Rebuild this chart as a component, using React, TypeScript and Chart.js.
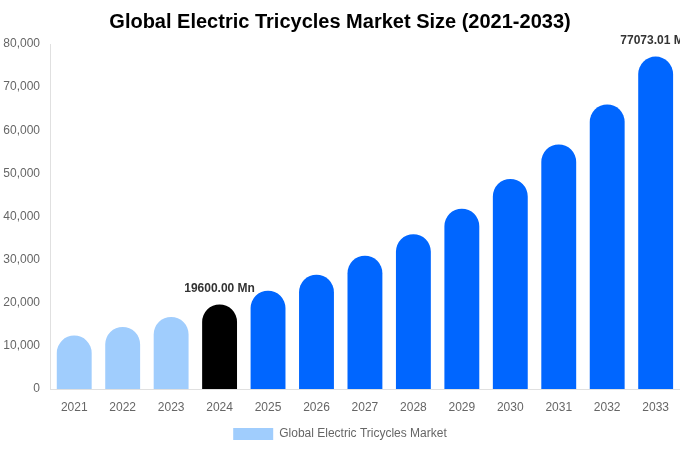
import React, { useEffect, useRef } from "react";
import { Chart, registerables } from "chart.js";

Chart.register(...registerables);

const years = ["2021", "2022", "2023", "2024", "2025", "2026", "2027", "2028", "2029", "2030", "2031", "2032", "2033"];
const marketSize = [12400, 14400, 16700, 19600, 22800, 26500, 30900, 35900, 41800, 48700, 56700, 66000, 77073.01];
const barColors = [
  "#a0cdfd", "#a0cdfd", "#a0cdfd", "#000000",
  "#0066ff", "#0066ff", "#0066ff", "#0066ff", "#0066ff", "#0066ff", "#0066ff", "#0066ff", "#0066ff",
];
const labelledIndexes = [3, 12];
const yTicks = [0, 10000, 20000, 30000, 40000, 50000, 60000, 70000, 80000];

const valueLabelPlugin = {
  id: "valueLabels",
  afterDatasetsDraw(chart: any) {
    const ctx = chart.ctx;
    const meta = chart.getDatasetMeta(0);
    ctx.save();
    ctx.font = "bold 12px 'Liberation Sans', Arial, sans-serif";
    ctx.fillStyle = "#333333";
    ctx.textAlign = "center";
    ctx.textBaseline = "middle";
    labelledIndexes.forEach((i) => {
      const bar = meta.data[i];
      if (!bar) return;
      ctx.fillText(marketSize[i].toFixed(2) + " Mn", bar.x, bar.y - 16);
    });
    ctx.restore();
  },
};

export default function App() {
  const canvasRef = useRef<HTMLCanvasElement | null>(null);

  useEffect(() => {
    document.body.style.margin = "0";
    const canvas = canvasRef.current;
    if (!canvas) return;
    const chart = new Chart(canvas, {
      type: "bar",
      data: {
        labels: years,
        datasets: [
          {
            label: "Global Electric Tricycles Market",
            data: marketSize,
            backgroundColor: barColors,
            borderRadius: 100,
            borderSkipped: "start",
            categoryPercentage: 0.8,
            barPercentage: 0.9,
          },
        ],
      },
      options: {
        animation: false,
        responsive: false,
        maintainAspectRatio: false,
        layout: { padding: { top: 0, right: 0, bottom: 0, left: 0 } },
        plugins: {
          title: {
            display: true,
            text: "Global Electric Tricycles Market Size (2021-2033)",
            color: "#000000",
            font: { family: "'Liberation Sans', Arial, sans-serif", size: 20, weight: "bold" },
            padding: { top: 10, bottom: 10 },
          },
          legend: {
            display: true,
            position: "bottom",
            labels: {
              color: "#666666",
              font: { family: "'Liberation Sans', Arial, sans-serif", size: 12 },
              boxWidth: 40,
              boxHeight: 12,
              generateLabels: () => [
                {
                  text: "Global Electric Tricycles Market",
                  fillStyle: "#a0cdfd",
                  strokeStyle: "#a0cdfd",
                  lineWidth: 0,
                  hidden: false,
                  datasetIndex: 0,
                  fontColor: "#666666",
                },
              ],
            },
          },
          tooltip: { enabled: false },
        },
        scales: {
          x: {
            grid: { display: false, drawTicks: false },
            border: { display: true, color: "#e0e0e0" },
            afterFit: (scale: any) => {
              scale.height = 29;
            },
            ticks: {
              color: "#666666",
              padding: 11,
              font: { family: "'Liberation Sans', Arial, sans-serif", size: 12 },
            },
          },
          y: {
            min: 0,
            max: 80000,
            afterBuildTicks: (axis: any) => {
              axis.ticks = yTicks.map((v) => ({ value: v }));
            },
            afterFit: (scale: any) => {
              scale.width = 50;
            },
            grid: { display: false, drawTicks: false },
            border: { display: true, color: "#e0e0e0" },
            ticks: {
              color: "#666666",
              padding: 10,
              font: { family: "'Liberation Sans', Arial, sans-serif", size: 12 },
              callback: (v: any) => Number(v).toLocaleString("en-US"),
            },
          },
        },
      },
      plugins: [valueLabelPlugin],
    });
    return () => chart.destroy();
  }, []);

  return (
    <div style={{ position: "fixed", left: 0, top: 0, width: 680, height: 450 }}>
      <canvas ref={canvasRef} width={680} height={450} style={{ width: 680, height: 450 }} />
    </div>
  );
}
